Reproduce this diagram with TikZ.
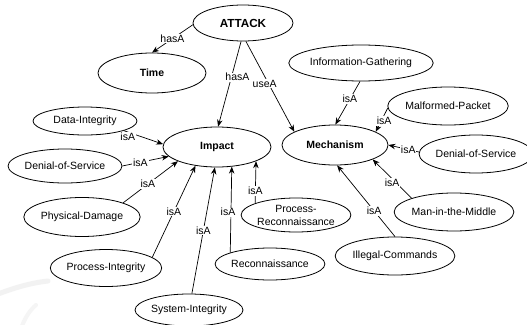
\documentclass[tikz,border=0pt]{standalone}
\usepackage{fontspec}
\setmainfont{Liberation Sans}
\usetikzlibrary{shapes.geometric,arrows.meta}
\begin{document}
\begin{tikzpicture}[x=1pt,y=-1pt,
  concept/.style={ellipse,draw,line width=0.8pt,inner sep=0pt,fill=white,
    font=\fontsize{10.5}{13}\selectfont},
  core/.style={concept,font=\fontsize{10.5}{13}\selectfont\bfseries},
  rel/.style={draw,line width=0.7pt,-{Stealth[length=7pt,width=5.5pt]}},
  lbl/.style={fill=white,inner sep=0.8pt,font=\fontsize{10.5}{12}\selectfont}]
\useasboundingbox (0,0) rectangle (527,324);
\fill[white] (0,0) rectangle (527,324);

% faint background mark, lower left
\draw[gray!10,line width=5pt,line cap=round]
  (-2,294) .. controls (14,288) and (30,283) .. (48,281);
\draw[gray!8,line width=4pt,line cap=round]
  (22,326) .. controls (25,318) and (30,310) .. (36,305);

% top level concept and its properties
\node[core,font=\fontsize{11.7}{13}\selectfont\bfseries,
  minimum width=100,minimum height=36] (attack) at (243,23) {ATTACK};
\node[core,minimum width=108,minimum height=40] (time)   at (152,73)  {Time};
\node[core,minimum width=108,minimum height=40] (impact) at (217,147) {Impact};
\node[core,minimum width=106,minimum height=40] (mech)   at (335,145) {Mechanism};

% kinds of mechanism
\node[concept,minimum width=124,minimum height=36] (ig)   at (361,63)  {Information-Gathering};
\node[concept,minimum width=108,minimum height=38] (mp)   at (448,106) {Malformed-Packet};
\node[concept,minimum width=108,minimum height=38] (dosr) at (476,154) {Denial-of-Service};
\node[concept,minimum width=108,minimum height=38] (mitm) at (454,212) {Man-in-the-Middle};
\node[concept,minimum width=106,minimum height=38] (ic)   at (395,256) {Illegal-Commands};

% kinds of impact
\node[concept,minimum width=104,minimum height=28] (di)   at (85,121)  {Data-Integrity};
\node[concept,minimum width=106,minimum height=34] (dosl) at (65,166)  {Denial-of-Service};
\node[concept,minimum width=108,minimum height=39] (pd)   at (82,217)  {Physical-Damage};
\node[concept,minimum width=98,minimum height=37]  (pi)   at (106,268) {Process-Integrity};
\node[concept,minimum width=108,minimum height=32] (si)   at (189,310) {System-Integrity};
\node[concept,minimum width=108,minimum height=34,align=center] (prc) at (296,215)
  {Process-\\Reconnaissance};
\node[concept,minimum width=106,minimum height=32] (rec)  at (270,264) {Reconnaissance};

% relations of the attack
\draw[rel] (attack.182) -- node[lbl,pos=.5]{hasA} (time.north);
\draw[rel] (attack.264) -- node[lbl,pos=.42,xshift=6]{hasA} (impact.87);
\draw[rel] (attack.279) -- node[lbl,pos=.47,xshift=-4]{useA} (mech.162);

% mechanism hierarchy
\draw[rel] (ig.267)   -- node[lbl,pos=.41]{isA} (mech.89);
\draw[rel] (mp.182)   -- node[lbl,pos=.55,xshift=3]{isA} (mech.18);
\draw[rel] (dosr.178) -- node[lbl,pos=.35]{isA} (mech.0);
\draw[rel] (mitm.162) -- node[lbl,pos=.5,yshift=-4]{isA} (mech.339);
\draw[rel] (ic.90)    -- node[lbl,pos=.36]{isA} (mech.276);

% impact hierarchy
\draw[rel] (di.346)  -- node[lbl,pos=.1,yshift=-5]{isA} (impact.177);
\draw[rel] (dosl.0)  -- node[lbl,pos=.39]{isA} (impact.191);
\draw[rel] (pd.19)   -- node[lbl,pos=.45]{isA} (impact.200);
\draw[rel] (pi.13)   -- node[lbl,pos=.5]{isA} (impact.221);
\draw[rel] (si.80)   -- node[lbl,pos=.5]{isA} (impact.264);
\draw[rel] (rec.164) -- node[lbl,pos=.47,xshift=-3]{isA} (impact.307);
\draw[rel] (prc.164) -- node[lbl,pos=.29]{isA} (impact.340);
\end{tikzpicture}
\end{document}
